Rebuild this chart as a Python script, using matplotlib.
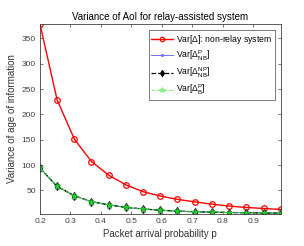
import matplotlib
matplotlib.use('Agg')
import matplotlib.pyplot as plt

plt.rcParams['font.family'] = ['Liberation Sans', 'DejaVu Sans']
plt.rcParams['mathtext.default'] = 'regular'

# packet arrival probability
p = [0.2, 0.256, 0.313, 0.369, 0.426, 0.482, 0.539, 0.595,
     0.651, 0.708, 0.764, 0.821, 0.877, 0.934, 0.99]

# variance of AoI
var_nonrelay = [378, 229, 151, 107, 80, 61, 47.5, 39,
                32.5, 27.5, 23, 19.2, 16.5, 14.5, 12.5]
var_p_nb = [94, 58, 39.5, 28, 21.5, 16.5, 13.5, 11,
            9.3, 8, 7.2, 6.5, 6, 5.5, 5.2]
var_np_nb = [94, 58, 39.5, 28, 21.5, 16.5, 13.5, 11,
             9.3, 8, 7.2, 6.5, 6, 5.5, 5.2]
var_p_b = [94, 58, 39.5, 28, 21.5, 16.5, 13.5, 11,
           9.3, 8, 7.2, 6.5, 6, 5.5, 5.2]

labels = [r'Var[$\Delta$]: non-relay system',
          r'Var[$\Delta^{P}_{NB}$]',
          r'Var[$\Delta^{NP}_{NB}$]',
          r'Var[$\Delta^{P}_{B}$]']

fig = plt.figure(figsize=(3.04, 2.46), dpi=100)
ax = fig.add_axes([0.1316, 0.132, 0.7914, 0.770])

ax.plot(p, var_nonrelay, 'o-', color='red', lw=1.0, ms=4, mfc='none', mew=0.9, label=labels[0])
ax.plot(p, var_p_nb, 's-', color='#7070ff', lw=0.7, ms=2.5, mfc='none', mew=0.6, label=labels[1])
ax.plot(p, var_np_nb, 'd--', color='black', lw=0.9, ms=4, mfc='none', mew=0.8, label=labels[2])
ax.plot(p, var_p_b, '*--', color='#22cc22', lw=0.8, ms=5, mew=0.6, label=labels[3])

ax.set_xlim(0.2, 0.99)
ax.set_ylim(4.5, 378)
ax.set_xticks([0.2, 0.3, 0.4, 0.5, 0.6, 0.7, 0.8, 0.9])
ax.set_yticks([50, 100, 150, 200, 250, 300, 350])
ax.tick_params(direction='in', top=True, right=True, labelsize=6, colors='#404040',
               length=2.5, width=0.5, pad=3)
for s in ax.spines.values():
    s.set_color('#404040')
    s.set_linewidth(0.6)

ax.set_title('Variance of AoI for relay-assisted system', fontsize=7, pad=3)
ax.set_xlabel('Packet arrival probability p', fontsize=7, color='#333333', labelpad=3)
ax.set_ylabel('Variance of age of information', fontsize=7, color='#333333', labelpad=3)

leg = ax.legend(loc='upper right', fontsize=6.2, frameon=True, fancybox=False,
                edgecolor='#404040', borderpad=0.3, labelspacing=0.35,
                handlelength=2.6, handletextpad=0.3, borderaxespad=0.7, markerscale=0.8)
leg.get_frame().set_linewidth(0.6)
leg.get_lines()[3].set_color('#88ee88')
leg.get_lines()[2].set_markerfacecolor('black')

plt.savefig('out.png', dpi=100)
